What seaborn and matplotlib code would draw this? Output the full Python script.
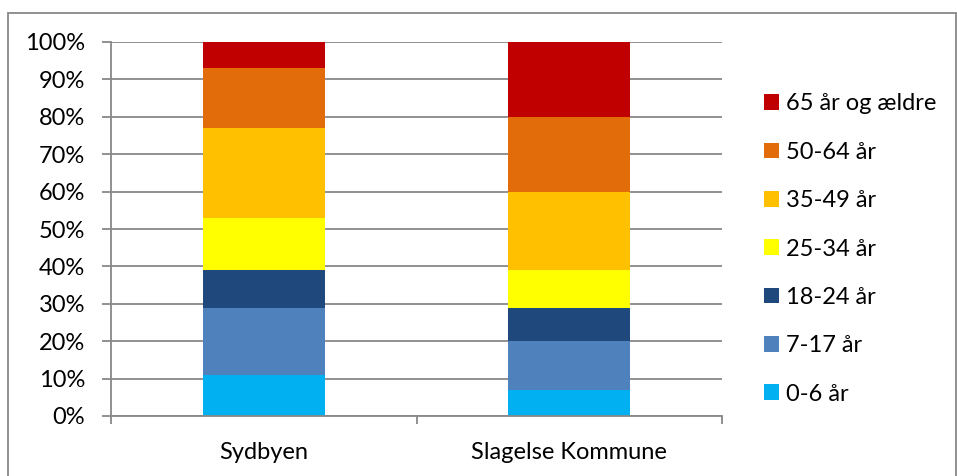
import matplotlib
matplotlib.use("Agg")
import matplotlib.pyplot as plt
from matplotlib.patches import Patch, Rectangle
from matplotlib.ticker import FixedLocator
import numpy as np
import pandas as pd
import seaborn as sns

categories = ["Sydbyen", "Slagelse Kommune"]
age_groups = ["0-6 år", "7-17 år", "18-24 år", "25-34 år", "35-49 år", "50-64 år", "65 år og ældre"]
sydbyen = [11, 18, 10, 14, 24, 16, 7]
slagelse = [7, 13, 9, 10, 21, 20, 20]
colors = ["#00B0F0", "#4F81BD", "#1F497D", "#FFFF00", "#FFC000", "#E36C0A", "#C00000"]
ytick_values = list(range(0, 101, 10))
ytick_labels = [f"{v}%" for v in ytick_values]

sns.set_theme(style="white")
plt.rcParams["font.family"] = ["Lato", "DejaVu Sans"]

FS = 17

fig = plt.figure(figsize=(9.57, 4.76), dpi=100)
ax = fig.add_axes([111/957, 1-416/476, (722-111)/957, (416-42)/476])

vals = np.array([sydbyen, slagelse], dtype=float)  # shape (cat, group)
cum = np.cumsum(vals, axis=1)

for i in range(len(age_groups) - 1, -1, -1):
    df = pd.DataFrame({"cat": categories, "val": cum[:, i]})
    sns.barplot(data=df, x="cat", y="val", color=colors[i], width=0.4,
                saturation=1, linewidth=0, ax=ax)

ax.set_xlim(-0.5, 1.5)
ax.set_ylim(0, 100)
ax.set_xlabel("")
ax.set_ylabel("")
ax.set_yticks(ytick_values)
ax.set_yticklabels(ytick_labels)
ax.set_xticks([0, 1])
ax.set_xticklabels(categories)
ax.xaxis.set_minor_locator(FixedLocator([-0.5, 0.5, 1.5]))

gc = "#888888"
ax.yaxis.grid(True, color=gc, lw=1.3)
ax.set_axisbelow(True)
for s in ["top", "right"]:
    ax.spines[s].set_visible(False)
for s in ["left", "bottom"]:
    ax.spines[s].set_color(gc)
    ax.spines[s].set_linewidth(1.3)

ax.tick_params(axis="y", which="major", left=True, length=6.5, width=1.3, color=gc,
               pad=12, labelsize=FS, labelcolor="#000000")
ax.tick_params(axis="x", which="major", bottom=False, length=0, pad=19,
               labelsize=FS, labelcolor="#000000")
ax.tick_params(axis="x", which="minor", bottom=True, length=6, width=1.3, color=gc)

handles = [Patch(facecolor=colors[i], edgecolor="none", label=age_groups[i])
           for i in range(len(age_groups) - 1, -1, -1)]
fig.legend(handles=handles, loc="center left", bbox_to_anchor=(764/957, (476-249)/476),
           frameon=False, fontsize=FS, handlelength=0.65, handleheight=0.65,
           handletextpad=0.3, labelspacing=1.16, borderpad=0, borderaxespad=0,
           labelcolor="#000000")

fig.patches.append(Rectangle((8/957, -0.05), (956-8)/957, (476-13)/476 + 0.05,
                             transform=fig.transFigure, fill=False,
                             edgecolor=gc, lw=1.3, zorder=0))

fig.savefig("out.png", dpi=100)
